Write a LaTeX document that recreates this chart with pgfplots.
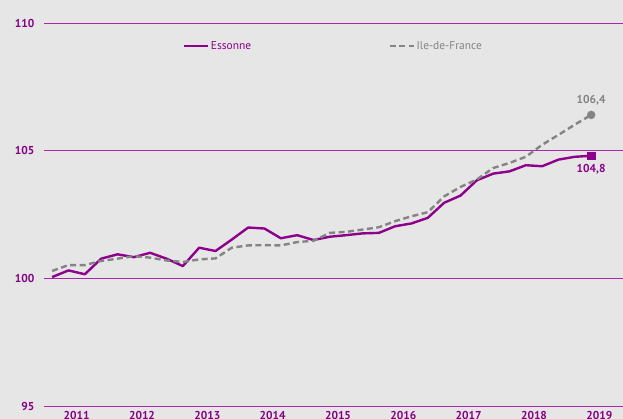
\documentclass[border=0pt]{standalone}
\usepackage{pgfplots}
\pgfplotsset{compat=1.18}
\usepackage{fontspec}
\setmainfont{PT Sans}
\definecolor{bg}{RGB}{230,230,230}
\definecolor{ess}{RGB}{140,0,140}
\definecolor{gridc}{RGB}{165,40,165}
\definecolor{idf}{RGB}{132,132,132}
\definecolor{tickc}{RGB}{135,0,135}
\begin{document}
\begin{tikzpicture}
\fill[bg, use as bounding box] (0,0) rectangle (623bp,419bp);
\begin{axis}[
  at={(44bp,13bp)}, anchor=south west,
  scale only axis, width=588bp, height=383bp,
  xmin=-0.5, xmax=35.5, ymin=95, ymax=110,
  axis line style={draw=none},
  ytick={95,100,105,110},
  ymajorgrids, grid style={gridc, line width=0.9bp},
  y tick style={draw=none},
  xtick={1.5,5.5,...,33.5},
  xticklabels={2011,2012,2013,2014,2015,2016,2017,2018,2019},
  x tick style={draw=none},
  extra x ticks={-0.5,3.5,...,35.5},
  extra x tick labels={},
  extra x tick style={tick style={draw=gridc, line width=0.9bp}, major tick length=3bp, tick align=outside, xtick pos=bottom},
  xtick pos=bottom,
  /pgf/number format/assume math mode=true,
  ticklabel style={font=\fontsize{11.5}{12}\selectfont\bfseries, text=tickc},
  yticklabel style={xshift=-6bp},
  xticklabel style={yshift=-1.5bp},
  clip=false,
  legend columns=2,
  legend style={at={(axis cs:8,109.1)}, anchor=west, draw=none, fill=none, inner sep=0pt,
    font=\fontsize{11.5}{12}\selectfont,
    nodes={inner xsep=1.5bp},
    /tikz/every even column/.append style={column sep=136bp}},
  legend image code/.code={\draw[#1] (0bp,0bp) -- (24bp,0bp);},
]
\addplot[ess, line width=2.4bp, line join=round] coordinates {
(0,100.05) (1,100.31) (2,100.16) (3,100.77) (4,100.94) (5,100.83) (6,101.0) (7,100.77)
(8,100.48) (9,101.2) (10,101.07) (11,101.52) (12,101.99) (13,101.95) (14,101.57) (15,101.69)
(16,101.5) (17,101.63) (18,101.69) (19,101.76) (20,101.78) (21,102.04) (22,102.15) (23,102.37)
(24,102.96) (25,103.24) (26,103.84) (27,104.1) (28,104.19) (29,104.43) (30,104.39) (31,104.65)
(32,104.76) (33,104.8)};
\addlegendentry{\textcolor{ess}{Essonne}}
\addplot[idf, line width=2.4bp, dash pattern=on 6bp off 3.5bp] coordinates {
(0,100.29) (1,100.52) (2,100.52) (3,100.68) (4,100.77) (5,100.87) (6,100.81) (7,100.7)
(8,100.64) (9,100.74) (10,100.78) (11,101.2) (12,101.29) (13,101.3) (14,101.29) (15,101.42)
(16,101.47) (17,101.78) (18,101.82) (19,101.91) (20,102.0) (21,102.24) (22,102.43) (23,102.59)
(24,103.21) (25,103.58) (26,103.87) (27,104.32) (28,104.52) (29,104.76) (30,105.23) (31,105.62)
(32,106.02) (33,106.4)};
\addlegendentry{\textcolor{idf}{Ile-de-France}}
\addplot[only marks, mark=*, mark size=4bp, idf, forget plot] coordinates {(33,106.4)};
\addplot[only marks, mark=square*, mark size=3.8bp, ess, forget plot] coordinates {(33,104.8)};
\node[above, yshift=6bp, text=idf, font=\fontsize{11.5}{12}\selectfont\bfseries] at (axis cs:33,106.4) {106,4};
\node[below, yshift=-5bp, text=ess, font=\fontsize{11.5}{12}\selectfont\bfseries] at (axis cs:33,104.8) {104,8};
\end{axis}
\end{tikzpicture}
\end{document}
